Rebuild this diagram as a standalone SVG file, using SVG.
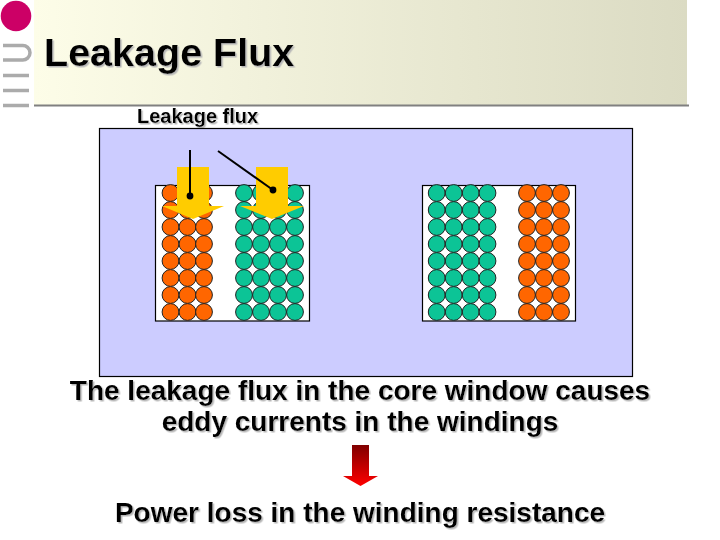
<svg xmlns="http://www.w3.org/2000/svg" xmlns:xlink="http://www.w3.org/1999/xlink" width="720" height="540" viewBox="0 0 720 540">
<style>
text{font-family:"Liberation Sans",Arial,sans-serif;font-weight:bold;fill:#000}
.s{filter:url(#sh)}
.g{fill:#0cc496;stroke:#222;stroke-width:1}
.o{fill:#ff6600;stroke:#222;stroke-width:1}
.win{fill:#fff;stroke:#000;stroke-width:1.2}
.bar{fill:none;stroke:#ababab;stroke-width:3.5}
.y{fill:#ffcc00}
.pt{fill:none;stroke:#000;stroke-width:2}
</style>
<defs>
<linearGradient id="hd" x1="0" x2="1" y1="0" y2="0"><stop offset="0" stop-color="#fdfde8"/><stop offset="1" stop-color="#dbdbc3"/></linearGradient>
<linearGradient id="rd" x1="0" x2="0" y1="0" y2="1"><stop offset="0" stop-color="#800000"/><stop offset="1" stop-color="#ff0000"/></linearGradient>
<filter id="sh" x="-5%" y="-20%" width="110%" height="140%"><feDropShadow dx="1.5" dy="1.5" stdDeviation="0.5" flood-color="#b8b8b8" flood-opacity="1"/></filter>
<g id="go"><circle class="o" cx="0" cy="193" r="8.4"/><circle class="o" cx="0" cy="210" r="8.4"/><circle class="o" cx="0" cy="227" r="8.4"/><circle class="o" cx="0" cy="244" r="8.4"/><circle class="o" cx="0" cy="261" r="8.4"/><circle class="o" cx="0" cy="278" r="8.4"/><circle class="o" cx="0" cy="295" r="8.4"/><circle class="o" cx="0" cy="312" r="8.4"/></g>
<g id="gg"><circle class="g" cx="0" cy="193" r="8.4"/><circle class="g" cx="0" cy="210" r="8.4"/><circle class="g" cx="0" cy="227" r="8.4"/><circle class="g" cx="0" cy="244" r="8.4"/><circle class="g" cx="0" cy="261" r="8.4"/><circle class="g" cx="0" cy="278" r="8.4"/><circle class="g" cx="0" cy="295" r="8.4"/><circle class="g" cx="0" cy="312" r="8.4"/></g>
</defs>
<rect width="720" height="540" fill="#fff"/>
<g id="header">
<rect x="34" y="0" width="653" height="105" fill="url(#hd)"/>
<rect x="34" y="104.500" width="655" height="2" fill="#808080"/>
<circle cx="16" cy="16" r="15.300" fill="#cc0066"/>
<path class="bar" d="M3 45.500H22a7.250 7.250 0 0 1 8 7.250v0a7.250 7.250 0 0 1-8 7.250H3"/>
<path class="bar" d="M3 75.500H29M3 90.500H29M3 105.500H29"/>
<text id="title" class="s" x="44" y="66" font-size="39.500">Leakage Flux</text>
</g>
<text id="caption" class="s" x="137" y="123" font-size="20">Leakage flux</text>
<rect id="core" x="99.500" y="128.500" width="533" height="248" fill="#ccccff" stroke="#000" stroke-width="1.200"/>
<g id="window-left">
<rect class="win" x="155.500" y="185.500" width="154" height="135.500"/>
<use xlink:href="#go" x="170.500"/><use xlink:href="#go" x="187.500"/><use xlink:href="#go" x="204"/>
<use xlink:href="#gg" x="244"/><use xlink:href="#gg" x="261"/><use xlink:href="#gg" x="278"/><use xlink:href="#gg" x="295"/>
</g>
<g id="window-right">
<rect class="win" x="422.500" y="185.500" width="153" height="135.500"/>
<use xlink:href="#gg" x="436.700"/><use xlink:href="#gg" x="453.700"/><use xlink:href="#gg" x="470.700"/><use xlink:href="#gg" x="487.500"/>
<use xlink:href="#go" x="527"/><use xlink:href="#go" x="544"/><use xlink:href="#go" x="561"/>
</g>
<g id="flux-arrows">
<path class="y" d="M177 167H209V206H224L193 219L162 206H177Z"/>
<path class="y" d="M256 167H288V206H304L272 219L240 206H256Z"/>
</g>
<g id="connectors">
<path class="pt" d="M190 150V196"/><circle cx="190" cy="196" r="3.400"/>
<path class="pt" d="M218 151L273 190"/><circle cx="273" cy="190" r="3.400"/>
</g>
<text id="t1" class="s" x="360" y="399.500" font-size="28" text-anchor="middle">The leakage flux in the core window causes</text>
<text id="t2" class="s" x="360" y="430.500" font-size="28" text-anchor="middle">eddy currents in the windings</text>
<path id="red-arrow" d="M352 445H369V476H378L360.500 486L343 476H352Z" fill="url(#rd)"/>
<text id="t3" class="s" x="360" y="522" font-size="28" text-anchor="middle">Power loss in the winding resistance</text>
</svg>
